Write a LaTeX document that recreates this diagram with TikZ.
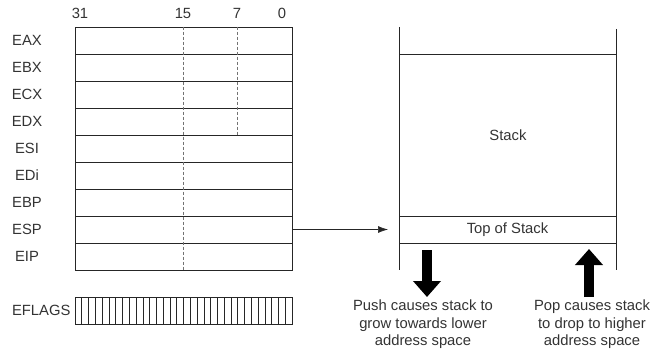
\documentclass[tikz,border=0pt]{standalone}
\usepackage{fontspec}
\setmainfont{Liberation Sans}
\usetikzlibrary{arrows.meta}
\tikzset{
	reg/.style={draw=black!85, line width=0.7pt, minimum width=217pt, minimum height=27pt, inner sep=0pt},
	lbl/.style={text=black!80, inner sep=1pt, font=\fontsize{14.8}{17.5}\selectfont},
	bitline/.style={draw=black!55, line width=0.7pt, dash pattern=on 3pt off 2pt},
	bigarrow/.style={draw=black, line width=10pt, -{Triangle[width=27pt,length=16pt]}},
}
\begin{document}
\begin{tikzpicture}[x=1pt, y=-1pt]
	\useasboundingbox (0,0) rectangle (669,353);
	% bit positions
	\node[lbl] (b31) at (80,13) {31};
	\node[lbl] (b15) at (183,13) {15};
	\node[lbl] (b7) at (237,13) {7};
	\node[lbl] (b0) at (282,13) {0};
	% registers
	\foreach \name [count=\i] in {EAX,EBX,ECX,EDX,ESI,EDi,EBP,ESP,EIP} {
		\node[reg] (r\name) at (183.5,13.5+27*\i) {};
		\node[lbl] (l\name) at (27,13.5+27*\i) {\name};
	}
	\draw[bitline] (b15 |- rEAX.north) -- (b15 |- rEIP.south);
	\draw[bitline] (b7 |- rEAX.north) -- (b7 |- rEDX.south);
	% flags
	\node[reg] (flags) at (183.5,310.5) {};
	\node[lbl, anchor=east] (lflags) at ([xshift=-3pt]flags.west) {EFLAGS};
	\foreach \k in {1,...,31}
		\draw[draw=black!85, line width=0.6pt] (75+\k*6.78125,297) -- (75+\k*6.78125,324);
	% stack
	\draw[draw=black!85, line width=0.7pt] (399,27) -- (399,270);
	\draw[draw=black!85, line width=0.7pt] (616,29) -- (616,270);
	\draw[draw=black!85, line width=0.7pt] (399,54) -- (616,54);
	\node[lbl] (stack) at (508,135) {Stack};
	\node[reg] (tos) at (507.5,229.5) {};
	\node[lbl] (ltos) at (tos.center) {Top of Stack};
	\coordinate (sp) at (388,229.5);
	\draw[draw=black!85, line width=0.7pt, -{Latex[length=10pt,width=7pt]}] (rESP.east) -- (sp);
	% push and pop
	\coordinate (pushtop) at (427,250);
	\coordinate (pushend) at (427,297);
	\coordinate (popbot) at (589,297);
	\coordinate (poptip) at (589,249);
	\draw[bigarrow] (pushtop) -- (pushend);
	\draw[bigarrow] (popbot) -- (poptip);
	\node[lbl, align=center, anchor=north] (push) at (423,299) {Push causes stack to\\grow towards lower\\address space};
	\node[lbl, align=center, anchor=north] (pop) at (592,299) {Pop causes stack\\to drop to higher\\address space};
\end{tikzpicture}
\end{document}
